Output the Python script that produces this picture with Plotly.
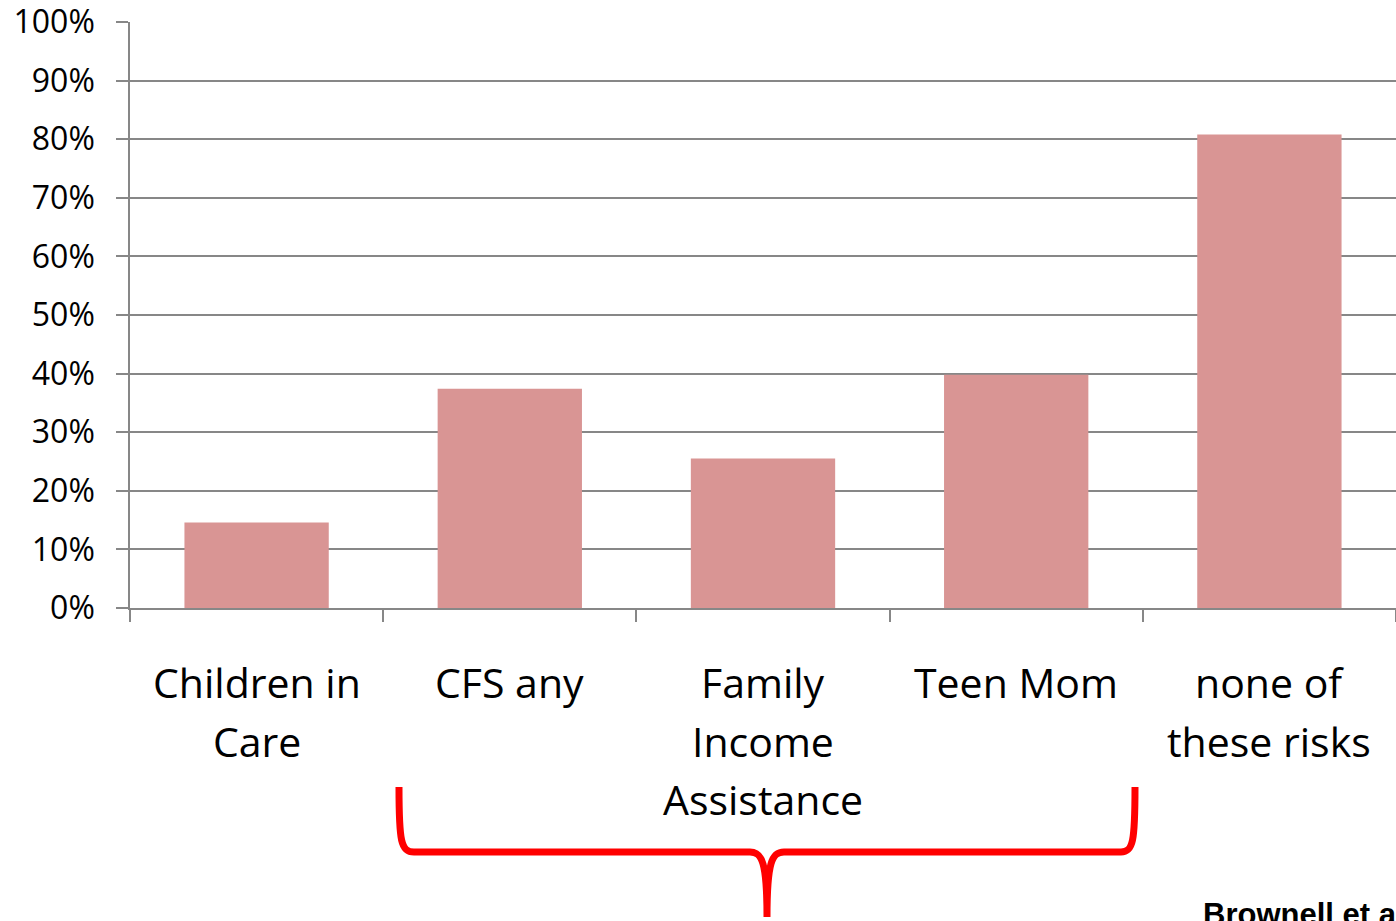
import plotly.graph_objects as go

# ---- data ----
categories = ["Children in Care", "CFS any", "Family Income Assistance", "Teen Mom", "none of these risks"]
label_lines = [["Children in", "Care"], ["CFS any"], ["Family", "Income", "Assistance"], ["Teen Mom"], ["none of", "these risks"]]
values = [14.6, 37.4, 25.5, 39.8, 80.8]
y_tickvals = [0, 10, 20, 30, 40, 50, 60, 70, 80, 90, 100]
y_ticktext = ["0%", "10%", "20%", "30%", "40%", "50%", "60%", "70%", "80%", "90%", "100%"]
source_note = "Brownell et al., 2010"

W, H = 1396, 921
L, R, T, B = 130, 0, 22, 313
PW, PH = W - L - R, H - T - B

def px(x, y):
    """screen pixel -> paper coordinates"""
    return (x - L) / PW, (H - B - y) / PH

fig = go.Figure(go.Bar(
    x=categories, y=values,
    marker=dict(color="#D99594", line=dict(width=0)),
    hoverinfo="x+y",
))

grid = "#878787"
fig.update_layout(
    width=W, height=H,
    margin=dict(l=L, r=R, t=T, b=B, autoexpand=False),
    paper_bgcolor="white", plot_bgcolor="white",
    bargap=0.43,
    showlegend=False,
    font=dict(family="Open Sans", color="black"),
)
fig.update_xaxes(
    type="category", range=[-0.5, 4.5],
    showticklabels=False,
    showline=True, linecolor=grid, linewidth=1.5,
    ticks="outside", tickson="boundaries", ticklen=12, tickcolor=grid, tickwidth=1.5,
    showgrid=False, fixedrange=True,
)
fig.update_yaxes(
    range=[0, 100], tickvals=y_tickvals, ticktext=y_ticktext,
    showline=True, linecolor=grid, linewidth=1.5,
    ticks="outside", ticklen=12, tickcolor=grid, tickwidth=1.5,
    showgrid=True, gridcolor=grid, gridwidth=1.5,
    zeroline=False,
    tickfont=dict(family="Open Sans", size=32, color="black"),
    ticklabelstandoff=15,
    ticklabeloverflow="allow",
    fixedrange=True,
)

# category labels, one annotation per line
annotations = []
for cat, lines in zip(categories, label_lines):
    for i, line in enumerate(lines):
        annotations.append(dict(
            x=cat, xref="x", y=0, yref="paper",
            text=line, showarrow=False,
            xanchor="center", yanchor="middle",
            yshift=-(74 + i * 58.5),
            font=dict(family="Open Sans", size=41, color="black"),
        ))

sx, sy = px(1201, 895)
annotations.append(dict(
    x=sx, y=sy, xref="paper", yref="paper", text="<b>" + source_note + "</b>",
    showarrow=False, xanchor="left", yanchor="top",
    font=dict(family="Liberation Sans", size=31, color="black"),
))
fig.update_layout(annotations=annotations)

# red brace grouping the three middle categories
pts = [
    ("M", [(399, 787)]),
    ("C", [(399, 842), (401, 852), (414, 852)]),
    ("L", [(750, 852)]),
    ("C", [(762, 852), (767, 862), (767, 917)]),
    ("C", [(767, 862), (772, 852), (784, 852)]),
    ("L", [(1121, 852)]),
    ("C", [(1133, 852), (1135, 842), (1135, 787)]),
]
path = ""
for cmd, ps in pts:
    path += cmd + " " + " ".join("%.5f,%.5f" % px(x, y) for x, y in ps) + " "
fig.add_shape(type="path", path=path.strip(), xref="paper", yref="paper",
              line=dict(color="#FF0000", width=7), fillcolor="rgba(0,0,0,0)")

fig.write_html(
    "out.html",
    config={"displayModeBar": False},
    post_script="document.body.style.margin='0';document.body.style.overflow='hidden';",
)
